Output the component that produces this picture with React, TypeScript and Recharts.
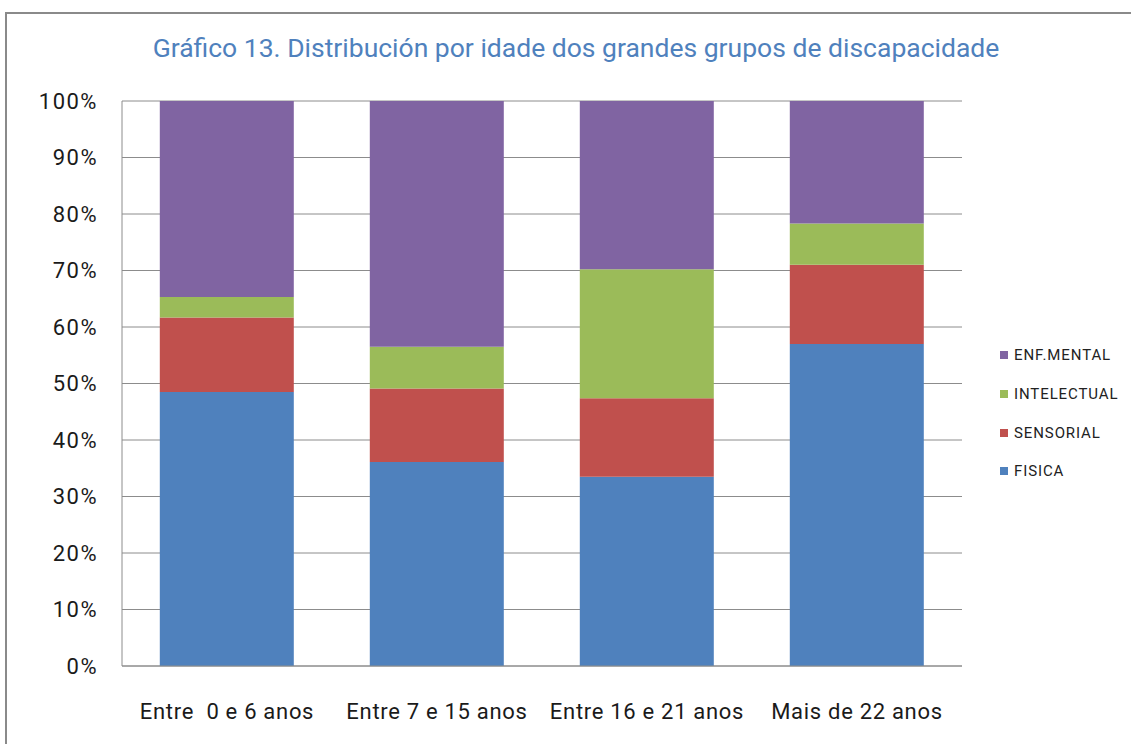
import { Bar, BarChart, CartesianGrid, XAxis, YAxis } from "recharts";

const categories = ["Entre \u00a00 e 6 anos", "Entre 7 e 15 anos", "Entre 16 e 21 anos", "Mais de 22 anos"];
const fisica = [48.5, 36.1, 33.5, 57.0];
const sensorial = [13.2, 13.0, 13.9, 14.0];
const intelectual = [3.6, 7.4, 22.8, 7.3];
const mental = [34.7, 43.5, 29.8, 21.7];
const yTicks = [0, 10, 20, 30, 40, 50, 60, 70, 80, 90, 100];

const series = [
  { key: "fisica", name: "FISICA", color: "#4f81bd" },
  { key: "sensorial", name: "SENSORIAL", color: "#c0504d" },
  { key: "intelectual", name: "INTELECTUAL", color: "#9bbb59" },
  { key: "mental", name: "ENF.MENTAL", color: "#8064a2" },
];

const data = categories.map((name, i) => ({
  name,
  fisica: fisica[i],
  sensorial: sensorial[i],
  intelectual: intelectual[i],
  mental: mental[i],
}));

const font = "Roboto, 'Liberation Sans', sans-serif";

function LegendBox() {
  return (
    <div style={{ position: "absolute", left: 1000, top: 336, fontFamily: font, fontSize: 15, color: "#222" }}>
      {[...series].reverse().map((s) => (
        <div key={s.key} style={{ display: "flex", alignItems: "center", height: 38.7 }}>
          <span style={{ width: 8, height: 8, background: s.color, marginRight: 6 }} />
          <span style={{ letterSpacing: 0.9 }}>{s.name}</span>
        </div>
      ))}
    </div>
  );
}

export default function App() {
  return (
    <div style={{ position: "absolute", left: 0, top: 0, width: 1131, height: 744, background: "#fff", overflow: "hidden" }}>
      <div
        style={{
          position: "absolute",
          left: 5,
          top: 12,
          width: 1140,
          height: 760,
          border: "2px solid #8a8a8a",
          boxSizing: "border-box",
        }}
      />
      <div
        style={{
          position: "absolute",
          left: 0,
          width: 1152,
          top: 32,
          textAlign: "center",
          fontFamily: font,
          fontSize: 26.5,
          color: "#4f81bd",
        }}
      >
        Gráfico 13. Distribución por idade dos grandes grupos de discapacidade
      </div>
      <div style={{ position: "absolute", left: 0, top: 0 }}>
        <BarChart
          width={1131}
          height={744}
          data={data}
          margin={{ top: 101, left: 62, right: 169, bottom: 18 }}
          barCategoryGap="18%"
        >
          <CartesianGrid vertical={false} stroke="#8c8c8c" strokeWidth={1} />
          <XAxis
            dataKey="name"
            axisLine={{ stroke: "#8c8c8c" }}
            tickLine={false}
            tickMargin={31}
            height={60}
            tick={{ fill: "#1a1a1a", fontSize: 22, fontFamily: font, letterSpacing: 0.7 }}
            interval={0}
          />
          <YAxis
            width={60}
            domain={[0, 100]}
            ticks={yTicks}
            tickFormatter={(v) => `${v}%`}
            axisLine={{ stroke: "#8c8c8c" }}
            tickLine={false}
            tickMargin={18}
            tick={{ fill: "#1a1a1a", fontSize: 22, fontFamily: font, letterSpacing: 1.5 }}
            allowDataOverflow
          />
          {series.map((s) => (
            <Bar
              key={s.key}
              dataKey={s.key}
              name={s.name}
              stackId="a"
              fill={s.color}
              isAnimationActive={false}
            />
          ))}
        </BarChart>
      </div>
      <LegendBox />
    </div>
  );
}
